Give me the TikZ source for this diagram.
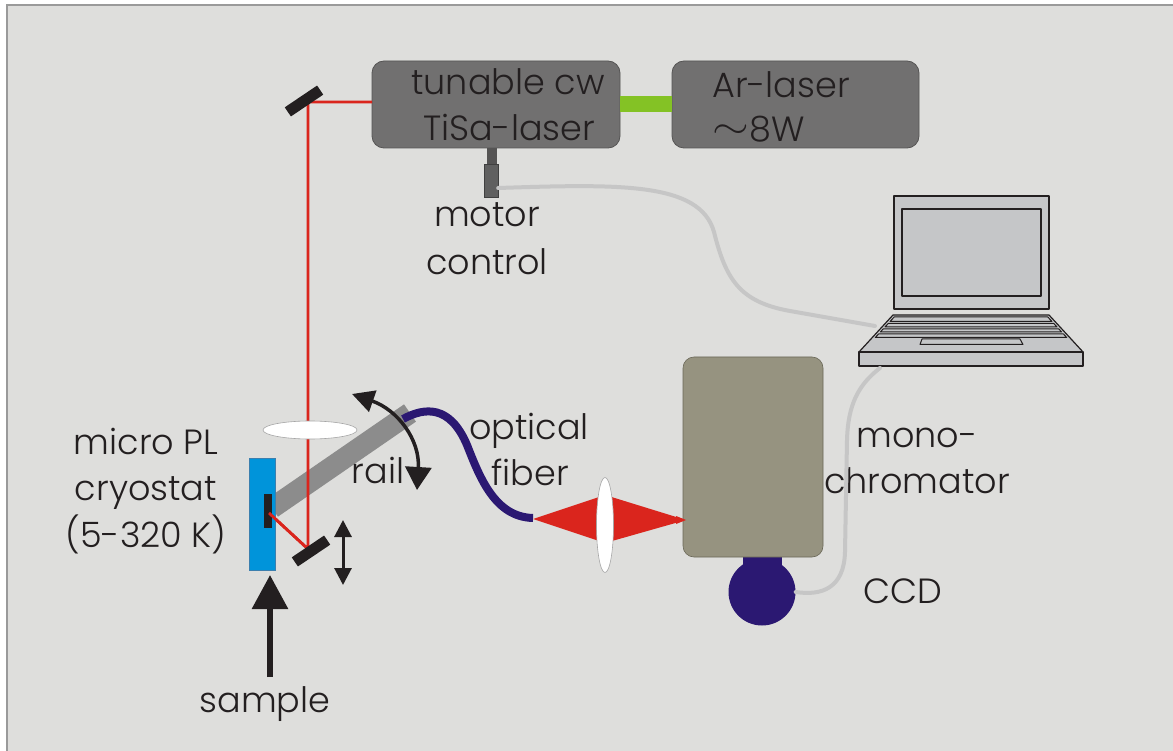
\documentclass[tikz,border=0pt]{standalone}
\usepackage{fontspec}
\usepackage{graphicx}
\setmainfont{Poppins Light}
\usetikzlibrary{arrows.meta,shapes.geometric}

\definecolor{bg}{HTML}{DEDEDC}
\definecolor{frame}{HTML}{9A9A9A}
\definecolor{ink}{HTML}{231F20}
\definecolor{laser}{HTML}{717070}
\definecolor{laseredge}{HTML}{555454}
\definecolor{beamred}{HTML}{DA251D}
\definecolor{pump}{HTML}{84C225}
\definecolor{railgray}{HTML}{8C8C8C}
\definecolor{cryo}{HTML}{0094DA}
\definecolor{cryoedge}{HTML}{3C7FAE}
\definecolor{mono}{HTML}{969380}
\definecolor{monoedge}{HTML}{6A6858}
\definecolor{navy}{HTML}{2B1872}
\definecolor{cable}{HTML}{C6C6C6}
\definecolor{pc}{HTML}{C5C6C8}

% wide tilde used for "about"
\newcommand{\approxsign}{\smash{\raisebox{3pt}{\scalebox{1.9}[1.5]{$\sim$}}}\hspace{1pt}}

\begin{document}
\begin{tikzpicture}[x=1pt,y=-1pt,
  lbl/.style={font=\fontsize{35}{44}\selectfont, text=ink, inner sep=0pt, anchor=base},
  laserbox/.style={draw=laseredge, line width=0.8pt, fill=laser, rounded corners=12pt, inner sep=0pt},
  mirror/.style={fill=ink, draw=none, minimum width=39pt, minimum height=11pt, inner sep=0pt, rotate=34},
  beam/.style={draw=beamred, line width=2.8pt},
  lens/.style={draw=gray!70, fill=white, line width=0.6pt},
  cablestyle/.style={draw=cable, line width=4pt, line cap=round},
  pcline/.style={draw=ink, fill=pc, line width=1.2pt, line join=round},
  blackarrow/.style={draw=ink, line width=3pt}
]
\useasboundingbox (0,0) rectangle (1173,751);

% panel
\fill[white] (0,0) rectangle (1173,751);
\fill[bg] (7,5) rectangle (1173,751);
\draw[frame, line width=1.6pt] (7,751) -- (7,5) -- (1173,5);

% lasers
\node[laserbox, minimum width=248pt, minimum height=87pt] (tisa) at (496,104.5) {};
\node[laserbox, minimum width=247pt, minimum height=87pt] (ar) at (795.5,104.5) {};
\draw[pump, line width=16pt] (tisa.east) -- (ar.west);
\node[lbl] (tisa1) at (508,95) {tunable cw};
\node[lbl] (tisa2) at (509,141) {TiSa-laser};
\node[lbl, anchor=base west] (ar1) at (712,98) {Ar-laser};
\node[lbl, anchor=base west] (ar2) at (712,142) {\approxsign 8W};

% motor on the TiSa
\node[fill=laseredge, minimum width=10pt, minimum height=17pt, inner sep=0pt, anchor=north] (stem) at (492,148) {};
\node[fill=gray!75!black, draw=gray!50!black, line width=0.4pt, minimum width=14pt, minimum height=33pt, inner sep=0pt, anchor=north] (motor) at (491,164) {};
\node[lbl] (motor1) at (487,227) {motor};
\node[lbl] (motor2) at (487,275) {control};

% beam path
\coordinate (bstart) at (372,102);
\coordinate (bcorner) at (308,102);
\coordinate (bdown) at (308,549);
\coordinate (bsample) at (269,513);

% rail
\coordinate (railA) at (272,508);
\coordinate (railB) at (410,413);
\draw[railgray, line width=21pt] (railA) -- (railB);

\draw[beam] (bstart) -- (bcorner) -- (bdown) -- (bsample);

% optical fiber
\draw[navy, line width=8pt] (403,419) .. controls (425,407) and (450,405) .. (467,445)
  .. controls (480,478) and (495,517) .. (533,518);

% focusing lens
\node[lens, ellipse, minimum width=94pt, minimum height=18pt, inner sep=0pt] (lensA) at (310,430) {};

% cryostat and sample
\node[draw=cryoedge, fill=cryo, line width=0.6pt, minimum width=26pt, minimum height=112pt, inner sep=0pt] (cryostat) at (262,514) {};
\node[fill=ink, minimum width=8pt, minimum height=34pt, inner sep=0pt] (sample) at (268,511) {};
\draw[beam] (bdown) -- (bsample);

% mirrors
\node[mirror] (mtop) at (304,101) {};
\node[mirror] (mbot) at (311,551) {};

% movement arrows
\coordinate (updn1) at (343,520);
\coordinate (updn2) at (343,585);
\draw[blackarrow, {Triangle[length=17pt,width=17pt]}-{Triangle[length=17pt,width=17pt]}] (updn1) -- (updn2);
\coordinate (rot1) at (352,394);
\coordinate (rot2) at (417,490);
\draw[blackarrow, line width=3.5pt, {Triangle[length=22pt,width=22pt]}-{Triangle[length=23pt,width=26pt]}]
  (rot1) .. controls (398,410) and (420,440) .. (rot2);

\coordinate (sbot) at (270,677);
\coordinate (stip) at (270,575);
\draw[ink, line width=6pt, -{Triangle[length=34pt,width=35pt]}] (sbot) -- (stip);

% labels left
\node[lbl] (cr1) at (146,454) {micro PL};
\node[lbl] (cr2) at (146,500) {cryostat};
\node[lbl] (cr3) at (146,547) {(5-320 K)};
\node[lbl] (raillbl) at (378,483) {rail};
\node[lbl] (fib1) at (529,439) {optical};
\node[lbl] (fib2) at (530,485) {fiber};
\node[lbl] (samplelbl) at (265,712) {sample};

% light cones and coupling lens
\coordinate (fibend) at (533,519);
\coordinate (monoin) at (686,520);
\fill[beamred] (fibend) -- (605,495) -- (monoin) -- (605,543) -- cycle;

% monochromator and CCD
\node[fill=navy, minimum width=39pt, minimum height=16pt, inner sep=0pt, anchor=north] (ccdneck) at (762.5,555) {};
\node[draw=monoedge, fill=mono, line width=0.6pt, rounded corners=11pt, minimum width=140pt, minimum height=200pt, inner sep=0pt] (mono) at (753,457) {};
\fill[beamred] (676,516) -- (686,520) -- (676,524) -- cycle;
\node[circle, fill=navy, minimum size=67pt, inner sep=0pt] (ccd) at (762,592) {};
\node[lens, ellipse, minimum width=17pt, minimum height=95pt, inner sep=0pt] (lensB) at (605,525) {};
\node[lbl] (mono1) at (917,447) {mono-};
\node[lbl] (mono2) at (917,493) {chromator};
\node[lbl] (ccdlbl) at (903,603) {CCD};

% laptop
\coordinate (pcin1) at (875,326);
\coordinate (pcin2) at (880,368);
\draw[pcline] (894,196) rectangle (1049,309);
\draw[pcline] (902,209) rectangle (1041,296);
\draw[pcline] (893,315) -- (1049,315) -- (1083,352) -- (859,352) -- cycle;
\draw[pcline] (859,352) rectangle (1083,366);
\foreach \ya/\yb in {317/321.5, 323.5/327, 329/332, 334/337.5}{
  \draw[pcline, line width=1pt] ({893-0.92*(\ya-315)+3},\ya) -- ({1049+0.92*(\ya-315)-3},\ya)
     -- ({1049+0.92*(\yb-315)-3},\yb) -- ({893-0.92*(\yb-315)+3},\yb) -- cycle;
}
\draw[pcline, line width=1pt] (922,339) -- (1020,339) -- (1023,344.5) -- (920,344.5) -- cycle;

% cables
\draw[cablestyle] (motor.east |- 0,188) .. controls (620,184) and (700,182) .. (714,232)
  .. controls (726,280) and (740,302) .. (790,311) -- (pcin1);
\draw[cablestyle] (pcin2) .. controls (858,385) and (848,405) .. (847,440)
  -- (845,552) .. controls (844,588) and (822,596) .. (ccd.east);
\end{tikzpicture}
\end{document}
